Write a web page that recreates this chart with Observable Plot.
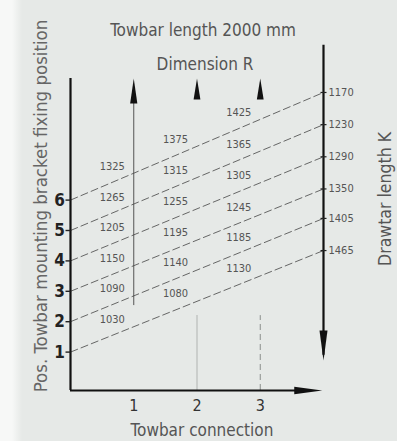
<!DOCTYPE html>
<html>
<head>
<meta charset="utf-8">
<script src="https://cdn.jsdelivr.net/npm/d3@7"></script>
<script src="https://cdn.jsdelivr.net/npm/@observablehq/plot@0.6"></script>
<style>
  html, body { margin: 0; padding: 0; }
  body {
    width: 397px; height: 441px; overflow: hidden;
    background: linear-gradient(to right, #f7f8f7 0px, #f7f8f7 12px, #e6e9e7 22px, #e6e9e7 100%);
  }
  #chart svg { display: block; }
  #chart svg text { font-stretch: condensed; }
</style>
</head>
<body>
<div id="chart"></div>
<script>
// ---- data ----
const positions   = [1, 2, 3, 4, 5, 6];                    // towbar mounting bracket fixing position
const drawbarK    = [1465, 1405, 1350, 1290, 1230, 1170];  // drawbar length K for each position
const connections = [1, 2, 3];                             // towbar connection
const dimR1 = [1030, 1090, 1150, 1205, 1265, 1325];        // Dimension R, connection 1
const dimR2 = [1080, 1140, 1195, 1255, 1315, 1375];        // Dimension R, connection 2
const dimR3 = [1130, 1185, 1245, 1305, 1365, 1425];        // Dimension R, connection 3
const kDomain = [1170, 1465];

const FONT = "'DejaVu Sans', sans-serif";

// right-hand axis: drawbar length K expressed in position units
const kScale = d3.scaleLinear().domain(kDomain).range([9.54, 4.34]);
const X_END = 4;
const Y_BASE = -0.263;

const lines = positions.map((p, i) => ({p, k: drawbarK[i], y0: p, y1: kScale(drawbarK[i])}));
const lineAt = (l, x) => l.y0 + (l.y1 - l.y0) * x / X_END;
const cells = [dimR1, dimR2, dimR3].flatMap((arr, c) =>
  arr.map((v, i) => { const x = connections[c] - 0.34; return {x, y: lineAt(lines[i], x), v}; }));

// custom arrow-head symbols (tip at origin)
const upHead    = {draw(ctx) { ctx.moveTo(0, 0); ctx.lineTo(3.6, 25); ctx.lineTo(-3.6, 25); ctx.closePath(); }};
const upHeadS   = {draw(ctx) { ctx.moveTo(0, 0); ctx.lineTo(3.4, 21); ctx.lineTo(-3.4, 21); ctx.closePath(); }};
const downHead  = {draw(ctx) { ctx.moveTo(0, 0); ctx.lineTo(4, -30); ctx.lineTo(-4, -30); ctx.closePath(); }};
const rightHead = {draw(ctx) { ctx.moveTo(0, 0); ctx.lineTo(-28, -3.8); ctx.lineTo(-28, 3.8); ctx.closePath(); }};
const tickL     = {draw(ctx) { ctx.moveTo(-5, 0); ctx.lineTo(0, 0); }};
const tickR     = {draw(ctx) { ctx.moveTo(-3, 0); ctx.lineTo(3, 0); }};

const chart = Plot.plot({
  width: 397,
  height: 441,
  margin: 0,
  style: {background: "transparent", fontFamily: FONT},
  x: {domain: [0, 4], range: [70, 323], axis: null},
  y: {domain: [0, 10], range: [382, 78], axis: null},
  marks: [
    // faint verticals at connections 2 and 3
    Plot.ruleX([connections[1]], {y1: Y_BASE, y2: 2.2, stroke: "#b9bdbb", strokeWidth: 1.2}),
    Plot.ruleX([connections[2]], {y1: Y_BASE, y2: 2.2, stroke: "#8a8e8c", strokeWidth: 1, strokeDasharray: "6,4"}),
    // vertical at connection 1
    Plot.ruleX([connections[0]], {y1: 2.53, y2: 9.6, stroke: "#555", strokeWidth: 1}),
    // dashed position lines
    Plot.link(lines, {x1: 0, y1: "y0", x2: X_END, y2: "y1", stroke: "#444", strokeWidth: 0.8, strokeDasharray: "8,3"}),
    // axes
    Plot.ruleX([0], {y1: Y_BASE, y2: 10, stroke: "#111", strokeWidth: 2.2}),
    Plot.ruleY([Y_BASE], {x1: 0, x2: 3.6, stroke: "#111", strokeWidth: 2.2}),
    Plot.ruleX([X_END], {y1: 0.9, y2: 11.09, stroke: "#111", strokeWidth: 2.2}),
    // arrow heads
    Plot.dot([connections[0]], {x: d => d, y: 10, symbol: upHead, fill: "#111", stroke: "none"}),
    Plot.dot(connections.slice(1), {x: d => d, y: 10, symbol: upHeadS, fill: "#111", stroke: "none"}),
    Plot.dot([X_END], {x: d => d, y: 0.72, symbol: downHead, fill: "#111", stroke: "none"}),
    Plot.dot([X_END], {x: d => d - 0.02, y: Y_BASE, symbol: rightHead, fill: "#111", stroke: "none"}),
    // ticks
    Plot.dot(positions, {x: 0, y: d => d, symbol: tickL, stroke: "#222", strokeWidth: 1.4, fill: "none"}),
    Plot.dot(lines, {x: X_END, y: "y1", symbol: tickR, stroke: "#222", strokeWidth: 1.2, fill: "none"}),
    // tick labels
    Plot.text(positions, {x: 0, y: d => d, text: d => String(d), dx: -11, fontSize: 17, fontWeight: "bold", fill: "#222", textAnchor: "middle"}),
    Plot.text(connections, {x: d => d, y: Y_BASE, text: d => String(d), dy: 15, fontSize: 16, fill: "#333"}),
    Plot.text(lines, {x: X_END, y: "y1", text: d => String(d.k), dx: 5, textAnchor: "start", fontSize: 11, fill: "#555"}),
    // dimension R values
    Plot.text(cells, {x: "x", y: "y", text: d => String(d.v), dy: -16, fontSize: 11, fill: "#555"}),
    // titles
    Plot.text(["Towbar length 2000 mm"], {frameAnchor: "top", dx: 4, dy: 23, fontSize: 17, fill: "#555"}),
    Plot.text(["Dimension R"], {frameAnchor: "top", dx: 6, dy: 57, fontSize: 17, fill: "#555"}),
    Plot.text(["Towbar connection"], {frameAnchor: "bottom", dx: 3, dy: -6, fontSize: 17, fill: "#555"}),
    Plot.text(["Pos. Towbar mounting bracket fixing position"], {frameAnchor: "left", textAnchor: "middle", dx: 41, dy: -15, rotate: -90, fontSize: 18.5, fill: "#666"}),
    Plot.text(["Drawtar length K"], {frameAnchor: "right", textAnchor: "middle", dx: -12, dy: -22, rotate: -90, fontSize: 17.5, fill: "#555"})
  ]
});
document.getElementById("chart").appendChild(chart);
</script>
</body>
</html>
